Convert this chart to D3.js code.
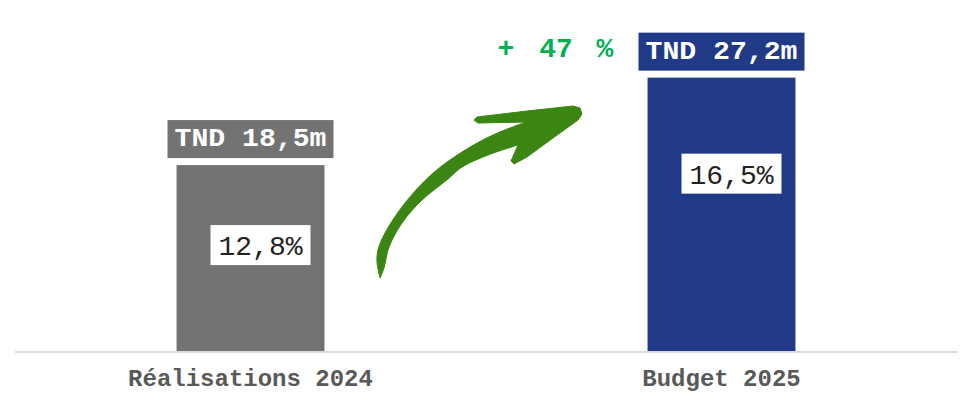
<!DOCTYPE html>
<html>
<head>
<meta charset="utf-8">
<script src="https://cdn.jsdelivr.net/npm/d3@7"></script>
<style>
  body { margin: 0; background: #fff; }
  svg { display: block; }
  text { font-family: "Liberation Mono", "Courier New", monospace; }
</style>
</head>
<body>
<svg id="chart" width="968" height="404"></svg>
<script>
// ---------- data ----------
const categories = ["Réalisations 2024", "Budget 2025"];
const values = [18.5, 27.2];
const valueLabels = ["TND 18,5m", "TND 27,2m"];
const shareLabels = ["12,8%", "16,5%"];
const growthParts = ["+", "47", "%"];
const barColors = ["#737373", "#213A87"];

// ---------- layout ----------
var width = 968,
    height = 404,
    x0 = 15, x1 = 957,
    baseY = 351,
    shareOffset = [60, 76]; // distance from bar top to the white % box

var svg = d3.select("#chart");

var x = d3.scaleBand()
    .domain(categories)
    .range([x0, x1])
    .paddingInner(0.686)
    .paddingOuter(0.343);

var y = d3.scaleLinear()
    .domain([0, 30])
    .range([baseY, baseY - 301.5]);

var rows = categories.map((c, i) => ({
    cat: c, value: values[i], label: valueLabels[i], share: shareLabels[i], color: barColors[i], i: i
}));

// bars
svg.append("g")
    .selectAll("rect")
    .data(rows)
    .join("rect")
    .attr("x", d => x(d.cat))
    .attr("width", x.bandwidth())
    .attr("y", d => y(d.value))
    .attr("height", d => y(0) - y(d.value))
    .attr("fill", d => d.color);

// baseline
svg.append("line")
    .attr("x1", x0).attr("x2", x1)
    .attr("y1", baseY + 1).attr("y2", baseY + 1)
    .attr("stroke", "#d9d9d9")
    .attr("stroke-width", 2);

// category labels
svg.append("g")
    .selectAll("text")
    .data(rows)
    .join("text")
    .attr("x", d => x(d.cat) + x.bandwidth() / 2)
    .attr("y", baseY + 35)
    .attr("text-anchor", "middle")
    .attr("font-weight", "bold")
    .attr("font-size", 24)
    .attr("fill", "#595959")
    .text(d => d.cat);

// value labels (coloured boxes above bars)
var lab = svg.append("g")
    .selectAll("g")
    .data(rows)
    .join("g")
    .attr("transform", d => `translate(${x(d.cat) + x.bandwidth() / 2},${y(d.value) - 7})`);
lab.append("rect")
    .attr("x", -83).attr("width", 166)
    .attr("y", -38).attr("height", 38)
    .attr("fill", d => d.color);
lab.append("text")
    .attr("x", 0)
    .attr("y", -12)
    .attr("text-anchor", "middle")
    .attr("font-weight", "bold")
    .attr("font-size", 25)
    .attr("textLength", 152)
    .attr("lengthAdjust", "spacingAndGlyphs")
    .attr("fill", "#fff")
    .text(d => d.label);

// share labels (white boxes inside bars)
var sh = svg.append("g")
    .selectAll("g")
    .data(rows)
    .join("g")
    .attr("transform", d => `translate(${x(d.cat) + x.bandwidth() / 2 + 10},${y(d.value) + shareOffset[d.i]})`);
sh.append("rect")
    .attr("x", -50).attr("width", 100)
    .attr("y", 0).attr("height", 40)
    .attr("fill", "#fff");
sh.append("text")
    .attr("x", 0)
    .attr("y", 30)
    .attr("text-anchor", "middle")
    .attr("font-size", 28)
    .attr("fill", "#222")
    .text(d => d.share);

// growth label
var g = svg.append("text")
    .attr("y", 57)
    .attr("font-weight", "bold")
    .attr("font-size", 28)
    .attr("fill", "#00B050")
    .attr("text-anchor", "middle");
[506, 556, 605].forEach((cx, i) => {
    g.append("tspan").attr("x", cx).text(growthParts[i]);
});

// curved arrow (hand-drawn style annotation)
var upperEdge = [[380, 278], [377, 262], [378, 250], [385, 233], [405, 203], [432, 174], [462, 152], [493, 135], [526, 122]];
var head = [[478, 123], [474, 120], [477, 117], [527, 111], [573, 106], [580, 108], [582, 114], [578, 120], [553, 138], [527, 157], [514, 164], [511, 161], [518, 145]];
var lowerEdge = [[518, 145], [488, 155], [462, 167], [448, 179], [422, 200], [402, 223], [389, 247], [384, 268], [380, 278]];
var smooth = d3.line().curve(d3.curveCatmullRom.alpha(0.5));
var straight = d3.line();
var dPath = smooth(upperEdge) +
    straight(head).replace(/^M/, "L") +
    smooth(lowerEdge).replace(/^M/, "L") + "Z";
svg.append("path")
    .attr("d", dPath)
    .attr("fill", "#3B8512")
    .attr("stroke", "#3B8512")
    .attr("stroke-width", 1)
    .attr("stroke-linejoin", "round");
</script>
</body>
</html>
